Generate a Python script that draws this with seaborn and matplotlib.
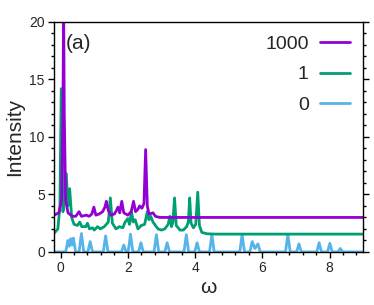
import matplotlib
matplotlib.use("Agg")
import matplotlib.pyplot as plt
import seaborn as sns
from matplotlib.ticker import MultipleLocator

# spectrum at coupling 0
blue_x = [-0.2, 0.15, 0.22, 0.26, 0.30, 0.34, 0.38, 0.45, 0.55, 0.62, 0.69,
          0.81, 0.88, 0.95, 1.27, 1.34, 1.41, 1.81, 1.88, 1.95, 2.01, 2.08, 2.15,
          2.32, 2.39, 2.46, 2.78, 2.85, 2.92, 3.10, 3.17, 3.24, 3.67, 3.74, 3.81,
          3.99, 4.06, 4.13, 4.43, 4.50, 4.57, 5.33, 5.40, 5.47, 5.63, 5.70, 5.78,
          5.87, 5.94, 6.69, 6.76, 6.83, 7.02, 7.09, 7.16, 7.62, 7.69, 7.76, 7.94,
          8.01, 8.08, 8.25, 8.32, 8.39, 9.0]
blue_y = [0, 0, 1.0, 0.5, 1.15, 0.6, 1.2, 0, 0, 1.6, 0,
          0, 0.9, 0, 0, 1.4, 0, 0, 0.6, 0, 0, 1.55, 0,
          0, 0.8, 0, 0, 1.5, 0, 0, 0.8, 0, 0, 1.5, 0,
          0, 0.8, 0, 0, 1.5, 0, 0, 1.5, 0, 0, 0.9, 0.3,
          0.7, 0, 0, 1.5, 0, 0, 0.7, 0, 0, 0.8, 0, 0,
          0.75, 0, 0, 0.3, 0, 0]

# spectrum at coupling 1
green_x = [-0.2, -0.08, -0.02, 0.02, 0.07, 0.12, 0.17, 0.22, 0.27, 0.33, 0.40,
           0.50, 0.57, 0.63, 0.75, 0.80, 0.86, 0.95, 1.00, 1.10, 1.18, 1.30,
           1.42, 1.48, 1.54, 1.65, 1.75, 1.85, 1.92, 2.00, 2.05, 2.11, 2.16,
           2.22, 2.30, 2.40, 2.50, 2.58, 2.63, 2.68, 2.75, 2.82, 2.90, 3.00,
           3.10, 3.20, 3.25, 3.30, 3.34, 3.39, 3.44, 3.55, 3.65, 3.75, 3.80,
           3.84, 3.88, 3.95, 4.02, 4.08, 4.13, 4.20, 4.35, 4.60, 9.0]
green_y = [1.6, 2.0, 4.0, 14.2, 3.5, 4.5, 6.8, 4.0, 5.5, 3.0, 2.4,
           2.3, 2.6, 2.2, 2.2, 2.5, 2.0, 2.1, 1.9, 2.2, 2.0, 2.2,
           2.6, 4.7, 2.5, 2.0, 2.2, 2.1, 2.6, 2.9, 2.4, 3.5, 2.6,
           2.8, 2.0, 2.3, 2.4, 3.5, 2.8, 3.1, 2.6, 2.3, 2.0, 1.9,
           2.0, 2.4, 3.1, 2.2, 2.6, 4.7, 2.3, 1.9, 1.9, 2.2, 2.6,
           4.7, 2.5, 2.1, 2.4, 5.2, 2.3, 1.7, 1.58, 1.55, 1.55]

# spectrum at coupling 1000
purple_x = [-0.2, -0.05, 0.03, 0.07, 0.09, 0.11, 0.15, 0.22, 0.35, 0.45, 0.55,
            0.62, 0.76, 0.85, 0.93, 0.99, 1.05, 1.15, 1.25, 1.32, 1.36, 1.42,
            1.50, 1.60, 1.66, 1.71, 1.76, 1.82, 1.88, 2.00, 2.10, 2.17, 2.23,
            2.30, 2.35, 2.42, 2.48, 2.53, 2.58, 2.63, 2.70, 2.75, 2.82, 2.95, 9.0]
purple_y = [3.2, 3.4, 4.5, 12.0, 22.0, 12.0, 4.5, 3.4, 3.1, 3.1, 3.5,
            3.1, 3.2, 3.1, 3.3, 3.9, 3.2, 3.3, 3.5, 3.9, 4.4, 3.6,
            3.2, 3.3, 3.6, 3.9, 3.4, 4.4, 3.4, 3.2, 3.5, 4.4, 3.5,
            3.7, 4.0, 3.8, 4.2, 8.9, 4.0, 3.3, 3.35, 3.4, 3.1, 3.0, 3.0]

series = [("0", blue_x, blue_y, "#56b4e9"),
          ("1", green_x, green_y, "#009e73"),
          ("1000", purple_x, purple_y, "#9400d3")]

sns.set_style("white")
plt.rcParams["font.family"] = ["Liberation Sans", "DejaVu Sans"]

fig = plt.figure(figsize=(3.74, 3.05), dpi=100)
ax = fig.add_axes([0.144, 0.174, 0.827, 0.754])

for name, xs, ys, col in series:
    sns.lineplot(x=xs, y=ys, ax=ax, color=col, lw=2, label=name,
                 sort=False, estimator=None)

ax.set_xlim(-0.2, 9.0)
ax.set_ylim(0, 20)
ax.xaxis.set_major_locator(MultipleLocator(2))
ax.xaxis.set_minor_locator(MultipleLocator(0.4))
ax.yaxis.set_major_locator(MultipleLocator(5))
ax.yaxis.set_minor_locator(MultipleLocator(1))
ax.tick_params(which="both", direction="out", left=True, bottom=True,
               right=True, top=False, width=1, color="black",
               labelsize=10, pad=2)
ax.tick_params(which="major", length=4.5)
ax.tick_params(which="minor", length=2.5)
for sp in ax.spines.values():
    sp.set_color("black")
    sp.set_linewidth(1)

ax.set_xlabel("ω", fontsize=15, labelpad=2)
ax.set_ylabel("Intensity", fontsize=15, labelpad=4)
ax.text(0.04, 0.905, "(a)", transform=ax.transAxes, fontsize=15,
        va="center", ha="left")

handles, labels = ax.get_legend_handles_labels()
ax.legend(handles[::-1], labels[::-1], loc="upper right", frameon=False,
          markerfirst=False, fontsize=14, handlelength=1.5, handletextpad=0.6,
          labelspacing=0.65, borderaxespad=0.3)
for t in ax.get_legend().get_texts():
    t.set_ha("right")

fig.savefig("out.png", dpi=100)
